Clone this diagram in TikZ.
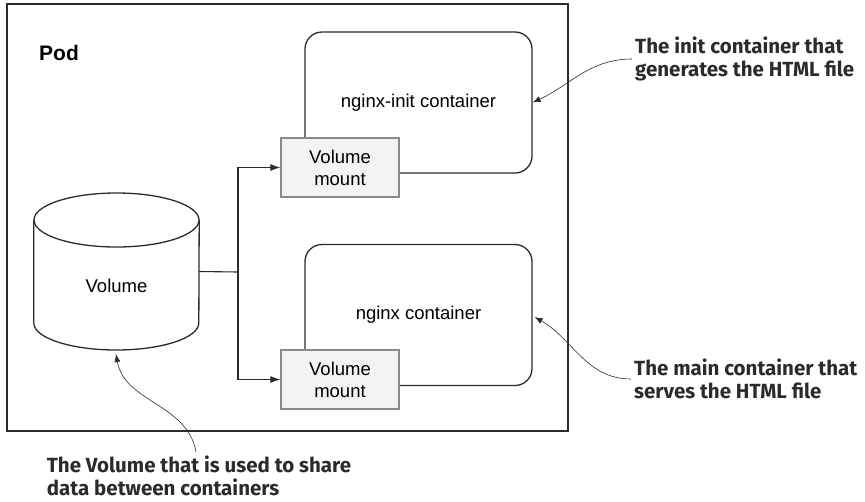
\documentclass[tikz,border=0pt]{standalone}
\usepackage{fontspec}
\setmainfont{Liberation Sans}
\newfontfamily\notefont{Fira Sans}
\usepackage{tikz}
\usetikzlibrary{arrows.meta, positioning}

\definecolor{lineGray}{HTML}{2B2B2B}
\definecolor{mountFill}{HTML}{F2F4F3}
\definecolor{mountLine}{HTML}{8A8A8A}

\begin{document}
\begin{tikzpicture}[
                x=1pt, y=-1pt,
                font=\fontsize{18.5}{22}\selectfont,
                container/.style={draw=lineGray, line width=1.3pt, rounded corners=17pt, minimum width=227pt, minimum height=141pt, inner sep=0pt},
                mountbox/.style={draw=mountLine, fill=mountFill, line width=1.2pt, minimum width=118pt, minimum height=59pt, align=center, inner sep=0pt},
                note/.style={align=left, inner sep=0pt, text=lineGray, font=\notefont\bfseries\fontsize{20.5}{22.5}\selectfont},
                link/.style={draw=lineGray, line width=1.1pt, -{Latex[length=10pt, width=7pt]}},
                callout/.style={draw=lineGray, line width=0.6pt, -{Latex[length=8pt, width=6pt]}}
            ]
                \useasboundingbox (0,0) rectangle (865,501);

                % pod frame
                \node[draw=lineGray, line width=1.4pt, minimum width=561pt, minimum height=427pt, inner sep=0pt] (pod) at (287.5,217.5) {};
                \node[font=\bfseries\fontsize{21}{24}\selectfont] (podlabel) at (59,53) {Pod};

                % volume (cylinder)
                \node[minimum width=165pt, minimum height=157pt, inner sep=0pt] (vol) at (116.5,271.5) {};
                \draw[lineGray, line width=1.3pt] (116.5,220) ellipse[x radius=82.5, y radius=27];
                \draw[lineGray, line width=1.3pt] (vol.west |- 0,220) -- (vol.west |- 0,323)
                    arc[start angle=180, end angle=0, x radius=82.5, y radius=27] -- (vol.east |- 0,220);
                \node (voltext) at (116.5,286) {Volume};

                % containers
                \node[container] (initbox) at (418.5,102.5) {nginx-init container};
                \node[container] (mainbox) at (418.5,315) {nginx container};

                \node[mountbox] (mount1) at (340,167.5) {Volume\\mount};
                \node[mountbox] (mount2) at (340,379.5) {Volume\\mount};

                \coordinate (split) at (238,272);
                \draw[lineGray, line width=1.1pt] (vol.east) -- (split);
                \draw[link] (split) |- (mount1.west);
                \draw[link] (split) |- (mount2.west);

                % notes
                \node[note, anchor=west] (initnote) at (635,59) {The init container that\\generates the HTML file};
                \node[note, anchor=west] (mainnote) at (634,379) {The main container that\\serves the HTML file};
                \node[note, anchor=north] (volnote) at (199,456) {The Volume that is used to share\\data between containers};

                \draw[callout] (initnote.west) ++(-3,0) to[out=180, in=25] (initbox.east);
                \draw[callout] (mainnote.west) ++(-3,0) to[out=180, in=-30] ([xshift=2pt, yshift=-2pt]mainbox.east);
                \draw[callout] (volnote.north) ++(-3,-4) to[out=100, in=-80] (116,354);
            \end{tikzpicture}
\end{document}
